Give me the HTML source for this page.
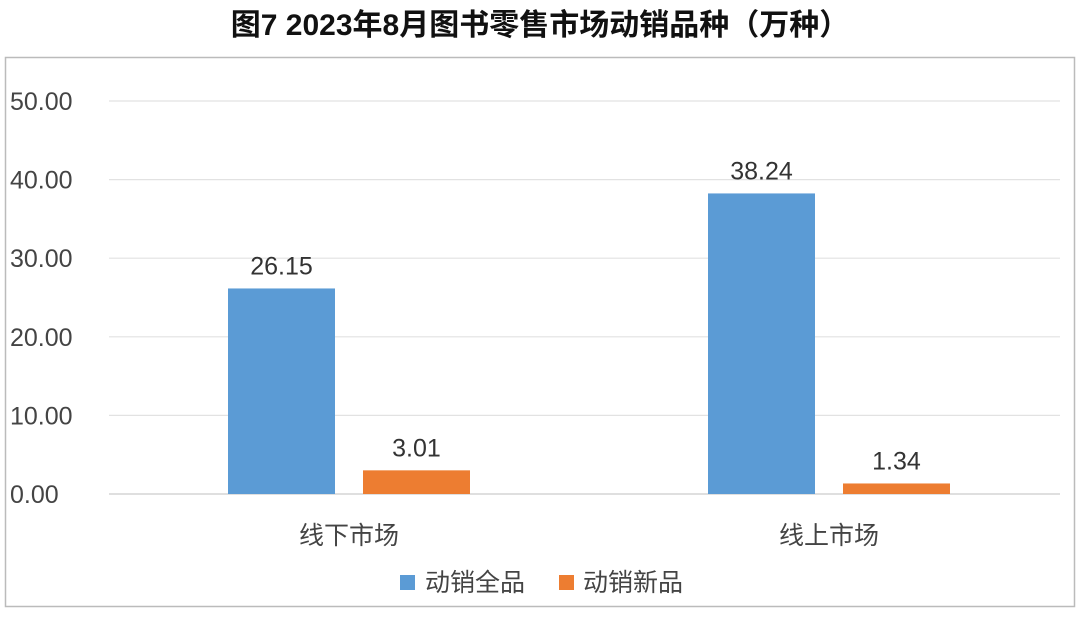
<!DOCTYPE html>
<html><head><meta charset="utf-8"><style>
body{margin:0;background:#fff;width:1080px;height:617px;overflow:hidden;font-family:"Liberation Sans","Noto Sans CJK SC",sans-serif}
svg text{font-family:"Liberation Sans","Noto Sans CJK SC",sans-serif}
</style></head><body>
<svg width="1080" height="617">
<text x="540" y="35" text-anchor="middle" font-size="30" font-weight="bold" fill="#111">图7  2023年8月图书零售市场动销品种（万种）</text>
<rect x="5.5" y="57.5" width="1069" height="549" fill="none" stroke="#bbb" stroke-width="1.5"/>
<g id="grid"></g><g id="bars"></g>
<g>
<rect x="400" y="575" width="15" height="15" fill="#5b9bd5"/>
<text x="425" y="591" font-size="25" fill="#444">动销全品</text>
<rect x="559" y="575" width="15" height="15" fill="#ed7d31"/>
<text x="583" y="591" font-size="25" fill="#444">动销新品</text>
</g>
</svg>
<script>
const categories=["线下市场","线上市场"];
const allValues=[26.15,38.24];
const newValues=[3.01,1.34];
const ticks=[0,10,20,30,40,50];
const tickLabels=["0.00","10.00","20.00","30.00","40.00","50.00"];
const NS="http://www.w3.org/2000/svg";
const y0=494,yTop=101,vMax=50;
const y=v=>y0-(y0-yTop)*v/vMax;
const groupX=[349,829];
function mk(tag,attrs,parent,txt){const e=document.createElementNS(NS,tag);for(const k in attrs)e.setAttribute(k,attrs[k]);if(txt!=null)e.textContent=txt;parent.appendChild(e);return e;}
const grid=document.getElementById('grid'),bars=document.getElementById('bars');
ticks.forEach((t,i)=>{
 const l=mk('line',{x1:109,x2:1060,y1:y(t),y2:y(t),stroke:t===0?'#ccc':'#e2e2e2','stroke-width':1.2},grid);
 
 
 const tx=mk('text',{x:10,y:y(t)+9,'font-size':25,fill:'#444'},grid,tickLabels[i]);
 
 
});
categories.forEach((c,i)=>{
 const cx=groupX[i];
 [[allValues[i],'#5b9bd5',-121,'all'],[newValues[i],'#ed7d31',14,'new']].forEach(([v,col,off,k])=>{
  const b=mk('rect',{x:cx+off,y:y(v),width:107,height:y0-y(v),fill:col},bars);
  
  
  const t=mk('text',{x:cx+off+53.5,y:y(v)-14,'text-anchor':'middle','font-size':25,fill:'#333'},bars,v.toFixed(2));
  
  
 });
 const cl=mk('text',{x:cx,y:544,'text-anchor':'middle','font-size':25,fill:'#444'},bars,c);
 
 
});
</script>
</body></html>
